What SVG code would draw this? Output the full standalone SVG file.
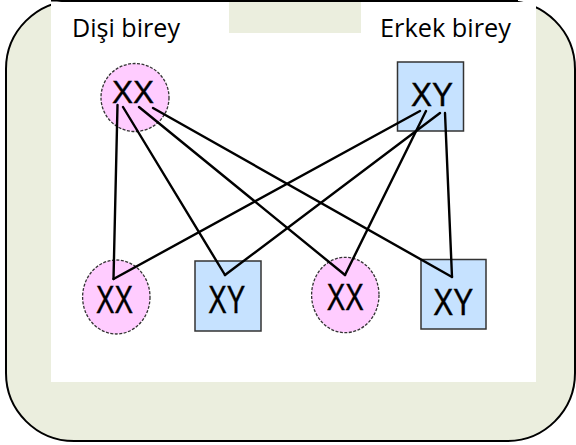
<svg xmlns="http://www.w3.org/2000/svg" width="576" height="445" viewBox="0 0 576 445">
<style>
.lbl{font-family:"Open Sans","Liberation Sans",sans-serif;font-size:25px;fill:#000}
.g{font-family:"Liberation Sans",Arial,sans-serif;fill:#000;stroke:#000;stroke-width:0.4}
.el{fill:#FFCCFF;stroke:#333;stroke-width:1.3;stroke-dasharray:3 1.5}
.sq{fill:#C6E2FF;stroke:#333;stroke-width:1.5}
.ln{stroke:#000;stroke-width:2.4;fill:none;stroke-linecap:round}
</style>
<rect x="6" y="1" width="569" height="440" rx="68" ry="68" fill="#EBEEDE" stroke="#000" stroke-width="2"/>
<rect x="51" y="2" width="485" height="380" fill="#FFFFFF"/>
<rect x="229" y="2" width="132" height="31" fill="#EBEEDE"/>
<line x1="51" y1="0.7" x2="518" y2="0.7" stroke="#000" stroke-width="1.5"/>
<text class="lbl" x="72" y="37" textLength="108" lengthAdjust="spacingAndGlyphs">Dişi birey</text>
<text class="lbl" x="380" y="37" textLength="131" lengthAdjust="spacingAndGlyphs">Erkek birey</text>
<g id="female-parent">
<ellipse class="el" cx="135" cy="97.5" rx="34" ry="34"/>
<text class="g" x="112" y="103" font-size="32" textLength="42" lengthAdjust="spacingAndGlyphs">XX</text>
</g>
<g id="male-parent">
<rect class="sq" x="397.5" y="62" width="66" height="69"/>
<text class="g" x="411" y="106" font-size="33" textLength="42" lengthAdjust="spacingAndGlyphs">XY</text>
</g>
<g id="child1">
<ellipse class="el" cx="116.3" cy="297" rx="33.7" ry="37"/>
<text class="g" x="96" y="313" font-size="38" textLength="37" lengthAdjust="spacingAndGlyphs">XX</text>
</g>
<g id="child2">
<rect class="sq" x="195" y="261" width="66" height="70"/>
<text class="g" x="208.3" y="313" font-size="38" textLength="37" lengthAdjust="spacingAndGlyphs">XY</text>
</g>
<g id="child3">
<ellipse class="el" cx="345.3" cy="295" rx="33.7" ry="37.7"/>
<text class="g" x="326.7" y="309.5" font-size="36" textLength="37" lengthAdjust="spacingAndGlyphs">XX</text>
</g>
<g id="child4">
<rect class="sq" x="421" y="259.5" width="65" height="69.5"/>
<text class="g" x="433.3" y="315" font-size="37" textLength="40" lengthAdjust="spacingAndGlyphs">XY</text>
</g>
<g id="connectors">
<line class="ln" x1="117.5" y1="105" x2="113.5" y2="279"/>
<line class="ln" x1="123" y1="107" x2="225" y2="275"/>
<line class="ln" x1="139" y1="107" x2="345" y2="275"/>
<line class="ln" x1="153" y1="108" x2="452" y2="277"/>
<line class="ln" x1="420" y1="111" x2="113.5" y2="279"/>
<line class="ln" x1="426" y1="111" x2="345" y2="275"/>
<line class="ln" x1="440" y1="113" x2="225" y2="275"/>
<line class="ln" x1="445" y1="113" x2="452" y2="277"/>
</g>
</svg>
